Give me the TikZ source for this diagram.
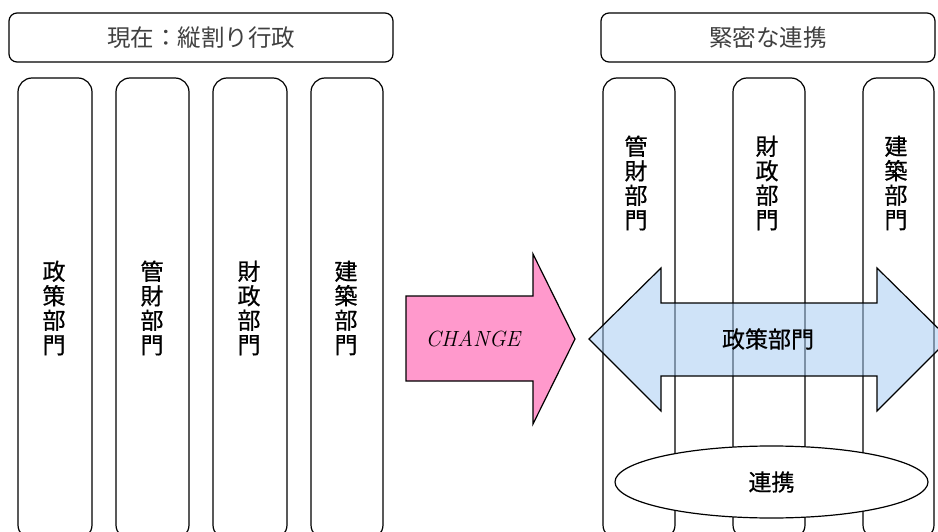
\documentclass[tikz,border=0pt]{standalone}
\usepackage{fontspec}
\newfontfamily\jp{Noto Sans CJK JP}
\newfontfamily\jpm[FakeBold=0.6]{Noto Sans CJK JP}
\usetikzlibrary{shapes.geometric}
\definecolor{changepink}{RGB}{255,153,204}
\definecolor{linkblue}{RGB}{160,200,242}
\tikzset{
  titlebox/.style={draw, line width=1.2pt, rounded corners=8pt, fill=white, inner sep=0pt},
  colbox/.style={draw, line width=1.2pt, rounded corners=14pt, inner sep=0pt, minimum height=461pt},
  jptext/.style={font=\jpm\fontsize{23}{24.5}\selectfont, align=center, inner sep=0pt},
  titletext/.style={font=\jp\fontsize{23.5}{24}\selectfont, text=black!75, inner sep=0pt},
  bigarrow/.style={draw, line width=1.2pt, line join=miter}
}
\begin{document}
\begin{tikzpicture}[x=1pt, y=-1pt]
\useasboundingbox (0,0) rectangle (938,532);
\clip (0,0) rectangle (938,532);
% titles
\node[titlebox, minimum width=384pt, minimum height=49pt] (t1) at (201,37.5) {};
\node[titletext] (t1txt) at (t1.center) {現在：縦割り行政};
\node[titlebox, minimum width=334pt, minimum height=49pt] (t2) at (768,37.5) {};
\node[titletext] (t2txt) at (t2.center) {緊密な連携};
% left columns
\node[colbox, minimum width=74pt] (l1) at (55,308.5) {};
\node[colbox, minimum width=73pt] (l2) at (152.5,308.5) {};
\node[colbox, minimum width=74pt] (l3) at (250,308.5) {};
\node[colbox, minimum width=72pt] (l4) at (347,308.5) {};
\node[jptext] (l1txt) at (54,308) {政\\策\\部\\門};
\node[jptext] (l2txt) at (152,308) {管\\財\\部\\門};
\node[jptext] (l3txt) at (249,308) {財\\政\\部\\門};
\node[jptext] (l4txt) at (346,308) {建\\築\\部\\門};
% right columns
\node[colbox, minimum width=72pt] (r1) at (639,308.5) {};
\node[colbox, minimum width=72pt] (r2) at (769,308.5) {};
\node[colbox, minimum width=71pt] (r3) at (898.5,308.5) {};
\node[jptext] (r1txt) at (636,183) {管\\財\\部\\門};
\node[jptext] (r2txt) at (767,183) {財\\政\\部\\門};
\node[jptext] (r3txt) at (896,183) {建\\築\\部\\門};
% change arrow
\draw[bigarrow, fill=changepink] (406,296) -- (533,296) -- (533,254) -- (575,339) -- (533,424) -- (533,381) -- (406,381) -- cycle;
\node[font=\fontsize{22}{22}\selectfont\itshape, inner sep=0pt] (change) at (473,339) {CHANGE};
% double arrow
\draw[bigarrow, fill=linkblue, fill opacity=0.5] (589,339) -- (661,268) -- (661,303) -- (877,303) -- (877,268) -- (949,339) -- (877,411) -- (877,376) -- (661,376) -- (661,411) -- cycle;
\node[jptext] (policy) at (768,339) {政策部門};
% ellipse
\node[ellipse, draw, line width=1.2pt, fill=white, minimum width=313pt, minimum height=72pt, inner sep=0pt] (link) at (771.5,482) {};
\node[jptext] (linktxt) at (link.center) {連携};
\end{tikzpicture}
\end{document}
